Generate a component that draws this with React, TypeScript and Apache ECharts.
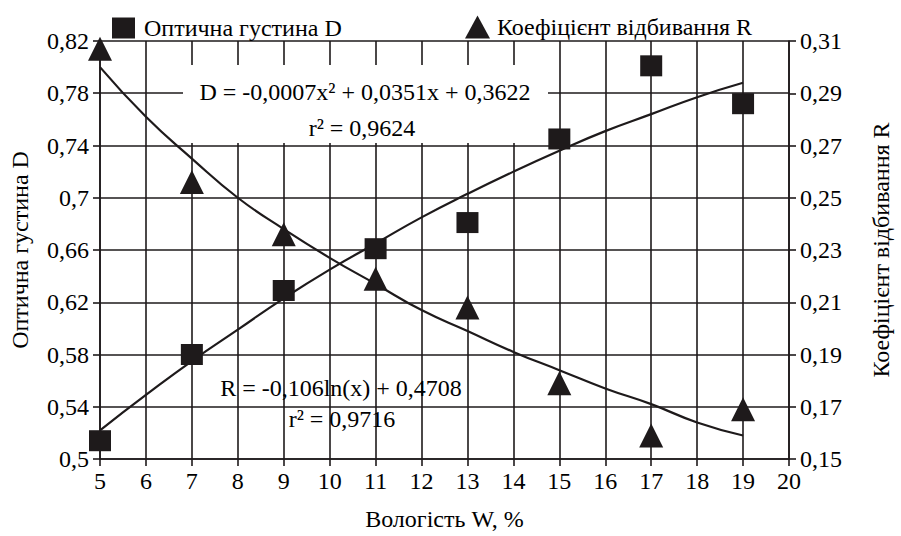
import React, { useEffect, useRef } from "react";
import * as echarts from "echarts";

// Measured points
const moistureW = [5, 7, 9, 11, 13, 15, 17, 19];
const opticalDensityD = [0.514, 0.58, 0.629, 0.661, 0.681, 0.745, 0.801, 0.772];
const reflectanceR = [0.307, 0.256, 0.236, 0.219, 0.208, 0.179, 0.159, 0.169];

// Trend lines
const trendW = [5, 6, 7, 8, 9, 10, 11, 12, 13, 14, 15, 16, 17, 18, 19];
const trendD = [0.522, 0.549, 0.575, 0.599, 0.623, 0.645, 0.665, 0.685, 0.703, 0.72, 0.736, 0.751, 0.764, 0.777, 0.788];
const trendR = [0.3, 0.281, 0.265, 0.25, 0.238, 0.227, 0.217, 0.207, 0.199, 0.191, 0.184, 0.177, 0.171, 0.164, 0.159];

// Axis ranges / ticks
const xRange = { min: 5, max: 20, step: 1 };
const dRange = { min: 0.5, max: 0.82, step: 0.04 };
const rRange = { min: 0.15, max: 0.31, step: 0.02 };

const nameD = "Оптична густина D";
const nameR = "Коефіцієнт відбивання R";
const nameX = "Вологість W, %";
const eqD = "D = -0,0007x² + 0,0351x + 0,3622";
const r2D = "r² = 0,9624";
const eqR = "R = -0,106ln(x) + 0,4708";
const r2R = "r² = 0,9716";

const FONT = "Liberation Serif";
const INK = "#1e1a1b";

const fmt = (v: number) => String(Number(v.toFixed(2))).replace(".", ",");

export default function App() {
  const ref = useRef<HTMLDivElement>(null);
  useEffect(() => {
    if (!ref.current) return;
    const chart = echarts.init(ref.current, undefined, { renderer: "svg" });
    const lineSt = { color: INK, width: 1.6 };
    const axisLine = { show: true, lineStyle: lineSt };
    const axisTick = { show: true, inside: false, length: 7, lineStyle: lineSt };
    const label = { color: "#000", fontSize: 24, fontFamily: FONT };
    chart.setOption({
      animation: false,
      backgroundColor: "#fff",
      textStyle: { fontFamily: FONT },
      grid: { left: 97, right: 99, top: 41, bottom: 71, containLabel: false },
      legend: [
        {
          data: [nameD],
          left: 107,
          top: 11,
          itemWidth: 23,
          itemHeight: 21,
          textStyle: { ...label, padding: [0, 0, 0, 4] },
        },
        {
          data: [nameR],
          left: 460,
          top: 10,
          itemWidth: 25,
          itemHeight: 23,
          textStyle: { ...label, padding: [0, 0, 0, 2] },
        },
      ],
      xAxis: {
        type: "value",
        min: xRange.min,
        max: xRange.max,
        interval: xRange.step,
        name: nameX,
        nameLocation: "middle",
        nameGap: 48,
        nameTextStyle: label,
        axisLine,
        axisTick,
        axisLabel: { ...label, margin: 10 },
        splitLine: { show: true, lineStyle: lineSt },
      },
      yAxis: [
        {
          type: "value",
          position: "left",
          min: dRange.min,
          max: dRange.max,
          interval: dRange.step,
          name: nameD,
          nameLocation: "middle",
          nameRotate: 90,
          nameGap: 68,
          nameTextStyle: label,
          axisLine,
          axisTick,
          axisLabel: { ...label, margin: 11, formatter: fmt },
          splitLine: { show: true, lineStyle: lineSt },
        },
        {
          type: "value",
          position: "right",
          min: rRange.min,
          max: rRange.max,
          interval: rRange.step,
          name: nameR,
          nameLocation: "middle",
          nameRotate: 90,
          nameGap: 80,
          nameTextStyle: label,
          axisLine,
          axisTick,
          axisLabel: { ...label, margin: 11, formatter: fmt },
          splitLine: { show: false },
        },
      ],
      series: [
        {
          name: "trendD",
          type: "line",
          yAxisIndex: 0,
          data: trendW.map((w, i) => [w, trendD[i]]),
          smooth: true,
          showSymbol: false,
          silent: true,
          lineStyle: { color: INK, width: 2.2 },
          z: 2,
        },
        {
          name: "trendR",
          type: "line",
          yAxisIndex: 1,
          data: trendW.map((w, i) => [w, trendR[i]]),
          smooth: true,
          showSymbol: false,
          silent: true,
          lineStyle: { color: INK, width: 2.2 },
          z: 2,
        },
        {
          name: nameD,
          type: "scatter",
          yAxisIndex: 0,
          symbol: "rect",
          symbolSize: [22, 21],
          itemStyle: { color: INK, opacity: 1 },
          data: moistureW.map((w, i) => [w, opticalDensityD[i]]),
          z: 3,
        },
        {
          name: nameR,
          type: "scatter",
          yAxisIndex: 1,
          symbol: "triangle",
          symbolSize: [24, 24],
          itemStyle: { color: INK, opacity: 1 },
          data: moistureW.map((w, i) => [w, reflectanceR[i]]),
          z: 3,
        },
      ],
      graphic: [
        {
          type: "rect",
          shape: { x: 183, y: 65, width: 365, height: 78 },
          style: { fill: "#fff" },
          z: 5,
        },
        {
          type: "text",
          x: 365,
          y: 92,
          z: 6,
          style: { text: eqD, fill: "#000", fontSize: 24, fontFamily: FONT, textAlign: "center", textVerticalAlign: "middle" },
        },
        {
          type: "text",
          x: 362,
          y: 128,
          z: 6,
          style: { text: r2D, fill: "#000", fontSize: 24, fontFamily: FONT, textAlign: "center", textVerticalAlign: "middle" },
        },
        {
          type: "text",
          x: 341,
          y: 388,
          z: 6,
          style: { text: eqR, fill: "#000", fontSize: 24, fontFamily: FONT, textAlign: "center", textVerticalAlign: "middle" },
        },
        {
          type: "text",
          x: 342,
          y: 419,
          z: 6,
          style: { text: r2R, fill: "#000", fontSize: 24, fontFamily: FONT, textAlign: "center", textVerticalAlign: "middle" },
        },
      ],
    });
    return () => chart.dispose();
  }, []);
  return (
    <div
      ref={ref}
      style={{ position: "absolute", left: 0, top: 0, width: 901, height: 536 }}
    />
  );
}
